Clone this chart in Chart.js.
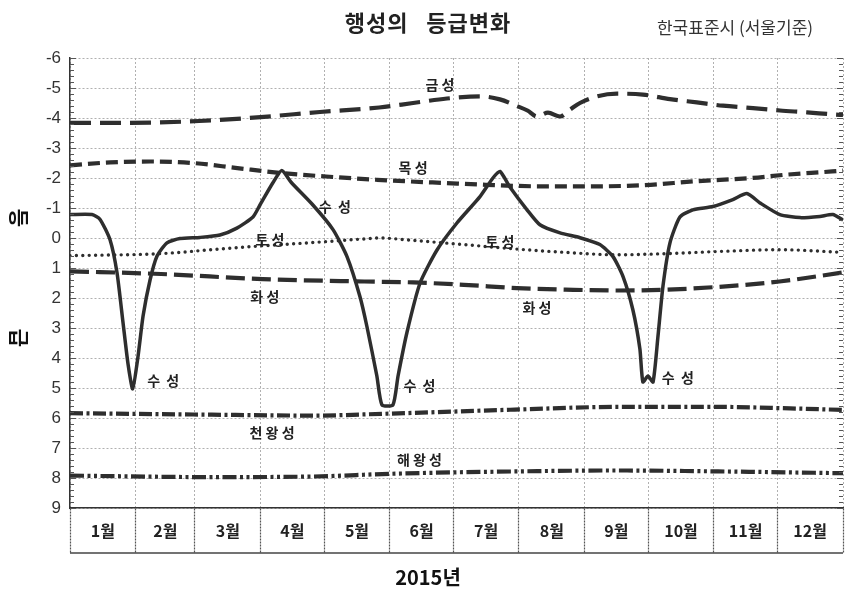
<!DOCTYPE html>
<html>
<head>
<meta charset="utf-8">
<script src="https://cdn.jsdelivr.net/npm/chart.js@4.4.0/dist/chart.umd.min.js"></script>
<style>
html, body { margin: 0; padding: 0; background: #fff; }
#wrap { width: 854px; height: 594px; }
</style>
</head>
<body>
<div id="wrap"><canvas id="chart" width="854" height="594"></canvas></div>
<script>
// month boundaries (day of year 2015) and labels
var monthStarts = [0, 31, 59, 90, 120, 151, 181, 212, 243, 273, 304, 334, 365];
var monthLabels = ['1월', '2월', '3월', '4월', '5월', '6월', '7월', '8월', '9월', '10월', '11월', '12월'];

// magnitudes, x = day of year
var mercuryDays = [0, 10.4, 14.2, 18.9, 22.2, 25.0, 27.4, 29.6, 32.1, 34.5, 37.8, 41.1, 45.8, 51.9, 61.4, 70.8,
	78.8, 86.4, 89.7, 95.8, 100.0, 104.5, 114.7, 124.2, 130.8, 136.9, 140.2, 144.9, 147.3, 152.5, 154.9, 159.1,
	165.3, 173.3, 182.7, 193.6, 199.7, 203.0, 207.7, 215.8, 221.9, 231.4, 240.8, 250.2, 256.4, 261.1, 265.8, 269.1,
	270.5, 272.9, 275.3, 277.6, 280.0, 283.3, 288.0, 294.1, 303.6, 313.0, 319.6, 325.8, 335.2, 344.7, 354.1, 360.2, 365];
var mercuryMag = [-0.78, -0.78, -0.62, 0.06, 1.16, 2.8, 4.2, 5.03, 3.96, 2.6, 1.4, 0.6, 0.16, 0.02, -0.02, -0.1,
	-0.33, -0.7, -1.1, -1.84, -2.25, -1.85, -1.1, -0.28, 0.62, 1.95, 2.95, 4.6, 5.56, 5.56, 4.6, 3.15,
	1.5, 0.4, -0.5, -1.38, -2.0, -2.22, -1.7, -0.94, -0.44, -0.17, -0.01, 0.22, 0.62, 1.28, 2.4, 3.7,
	4.8, 4.6, 4.8, 3.3, 1.6, 0.16, -0.7, -0.94, -1.05, -1.28, -1.48, -1.17, -0.78, -0.68, -0.72, -0.78, -0.6];

var venusDays = [0, 28, 61, 90, 118, 146, 162, 178, 194, 203, 211, 216, 220.5, 225.7, 231.4, 236.1, 240.8, 248.8, 258.3, 270.5, 283.3, 296, 308.3, 322.5, 335.2, 348, 360.2, 365];
var venusMag = [-3.84, -3.84, -3.9, -4.03, -4.2, -4.35, -4.5, -4.65, -4.72, -4.62, -4.4, -4.25, -4.05, -4.18, -4.05, -4.28, -4.5, -4.72, -4.81, -4.78, -4.63, -4.52, -4.41, -4.33, -4.25, -4.19, -4.12, -4.1];

var jupiterDays = [0, 19, 38, 58, 79, 99, 121, 145, 159, 178, 194, 209, 225, 241, 271, 295, 322, 338, 360, 365];
var jupiterMag = [-2.42, -2.52, -2.55, -2.5, -2.33, -2.17, -2.05, -1.94, -1.89, -1.83, -1.78, -1.74, -1.72, -1.72, -1.76, -1.89, -2.0, -2.11, -2.22, -2.25];

var saturnDays = [0, 43, 67, 91, 115, 139, 146, 162, 186, 211, 234, 258, 282, 306, 335, 365];
var saturnMag = [0.59, 0.52, 0.39, 0.26, 0.15, 0.03, 0.0, 0.08, 0.22, 0.37, 0.48, 0.56, 0.52, 0.45, 0.39, 0.48];

var marsDays = [0, 43, 91, 139, 162, 186, 211, 234, 258, 282, 306, 335, 365];
var marsMag = [1.11, 1.2, 1.37, 1.45, 1.48, 1.56, 1.67, 1.72, 1.75, 1.72, 1.63, 1.45, 1.15];

var uranusDays = [0, 67, 115, 148, 210, 258, 306, 340, 365];
var uranusMag = [5.84, 5.89, 5.92, 5.86, 5.72, 5.63, 5.63, 5.68, 5.73];

var neptuneDays = [0, 67, 115, 151, 211, 258, 306, 365];
var neptuneMag = [7.92, 7.97, 7.95, 7.86, 7.78, 7.75, 7.78, 7.84];

// planet names written on the plot
var noteTexts = ['금 성', '목 성', '수  성', '토 성', '토 성', '화 성', '화 성', '수  성', '수  성', '수  성', '천 왕 성', '해 왕 성'];
var noteDays = [174.7, 162, 125, 94.4, 203, 92, 220.5, 44, 165, 287, 95.4, 165];
var noteMags = [-5.11, -2.34, -1.04, 0.06, 0.12, 1.96, 2.32, 4.76, 4.92, 4.66, 6.49, 7.39];

function pts(days, mags) {
	var out = [];
	for (var i = 0; i < days.length; i++) out.push({x: days[i], y: mags[i]});
	return out;
}

var ink = '#2e2e2e';
var KR = '"Noto Sans CJK KR", "Noto Sans", sans-serif';

function line(label, days, mags, dash, width, cap) {
	return {
		label: label,
		data: pts(days, mags),
		borderColor: ink,
		borderWidth: width,
		borderDash: dash,
		borderCapStyle: cap || 'butt',
		pointRadius: 0,
		fill: false,
		cubicInterpolationMode: 'monotone'
	};
}

var mercury = line('수성', mercuryDays, mercuryMag, [], 3.5);
mercury.cubicInterpolationMode = 'default';
mercury.tension = 0.2;

var datasets = [
	line('금성', venusDays, venusMag, [21, 9], 4.2),
	line('목성', jupiterDays, jupiterMag, [12, 6], 4.2),
	line('토성', saturnDays, saturnMag, [0, 6.4], 3.4, 'round'),
	line('화성', marsDays, marsMag, [19, 7], 4.2),
	line('천왕성', uranusDays, uranusMag, [13, 3.5, 3, 3.5], 4.2),
	line('해왕성', neptuneDays, neptuneMag, [14, 3.5, 3, 3.5, 3, 3.5], 4.2),
	mercury
];

var decor = {
	id: 'decor',
	afterDraw: function (chart) {
		var ctx = chart.ctx;
		var a = chart.chartArea;
		var xs = chart.scales.x, ys = chart.scales.y;
		ctx.save();

		// minor ticks on left and right edges
		ctx.strokeStyle = '#555';
		ctx.lineWidth = 1;
		ctx.beginPath();
		for (var k = 0; k <= 75; k++) {
			var py = Math.round(ys.getPixelForValue(-6 + k * 0.2)) + 0.5;
			var len = (k % 5 === 0) ? 6 : 4;
			ctx.moveTo(a.left, py); ctx.lineTo(a.left + len, py);
			ctx.moveTo(a.right, py); ctx.lineTo(a.right - len, py);
		}
		ctx.stroke();

		// month boxes bottom
		ctx.strokeStyle = '#444';
		ctx.lineWidth = 1.5;
		ctx.beginPath();
		ctx.moveTo(a.left, a.bottom + 45);
		ctx.lineTo(a.right, a.bottom + 45);
		ctx.stroke();

		// month labels
		ctx.fillStyle = '#222';
		ctx.font = 'bold 16px ' + KR;
		ctx.textAlign = 'center';
		ctx.textBaseline = 'middle';
		for (var m = 0; m < 12; m++) {
			var cx = xs.getPixelForValue((monthStarts[m] + monthStarts[m + 1]) / 2);
			ctx.fillText(monthLabels[m], cx, a.bottom + 23);
		}

		// planet names
		ctx.font = 'bold 14px ' + KR;
		ctx.fillStyle = '#222';
		for (var n = 0; n < noteTexts.length; n++) {
			ctx.fillText(noteTexts[n], xs.getPixelForValue(noteDays[n]), ys.getPixelForValue(noteMags[n]));
		}

		// titles
		ctx.font = 'bold 22px ' + KR;
		ctx.letterSpacing = '1px';
		ctx.fillText('행성의   등급변화', 428, 23);
		ctx.font = '17px ' + KR;
		ctx.letterSpacing = '0px';
		ctx.fillStyle = '#333';
		ctx.fillText('한국표준시 (서울기준)', 735, 28);
		ctx.font = 'bold 20px ' + KR;
		ctx.fillStyle = '#111';
		ctx.fillText('2015년', 428, 577);

		// y axis title, turned clockwise
		var words = [['등', 218], ['급', 338]];
		for (var w = 0; w < words.length; w++) {
			ctx.save();
			ctx.translate(19, words[w][1]);
			ctx.rotate(Math.PI / 2);
			ctx.font = 'bold 20px ' + KR;
			ctx.fillText(words[w][0], 0, 0);
			ctx.restore();
		}
		ctx.restore();
	}
};

new Chart(document.getElementById('chart').getContext('2d'), {
	type: 'line',
	data: {datasets: datasets},
	options: {
		responsive: false,
		animation: false,
		layout: {padding: {left: 0, top: 58, right: 11, bottom: 41}},
		plugins: {legend: {display: false}, tooltip: {enabled: false}, title: {display: false}},
		scales: {
			x: {
				type: 'linear',
				min: 0,
				max: 365,
				afterBuildTicks: function (scale) {
					scale.ticks = monthStarts.map(function (v) { return {value: v}; });
				},
				ticks: {display: false},
				grid: {
					color: '#b0b0b0',
					lineWidth: 1,
					drawTicks: true,
					tickLength: 45,
					tickColor: '#555',
					tickWidth: 1.2,
					tickBorderDash: [2, 1]
				},
				border: {display: true, color: '#333', width: 1.5, dash: [2, 2]}
			},
			y: {
				type: 'linear',
				reverse: true,
				min: -6,
				max: 9,
				afterFit: function (scale) { scale.width = 70; },
				ticks: {
					stepSize: 1,
					padding: 9,
					color: '#333',
					font: {family: '"Liberation Sans", Arial, sans-serif', size: 17}
				},
				grid: {color: '#b0b0b0', lineWidth: 1, drawTicks: false},
				border: {display: true, color: '#333', width: 1.5, dash: [2, 2]}
			}
		}
	},
	plugins: [decor]
});
</script>
</body>
</html>
